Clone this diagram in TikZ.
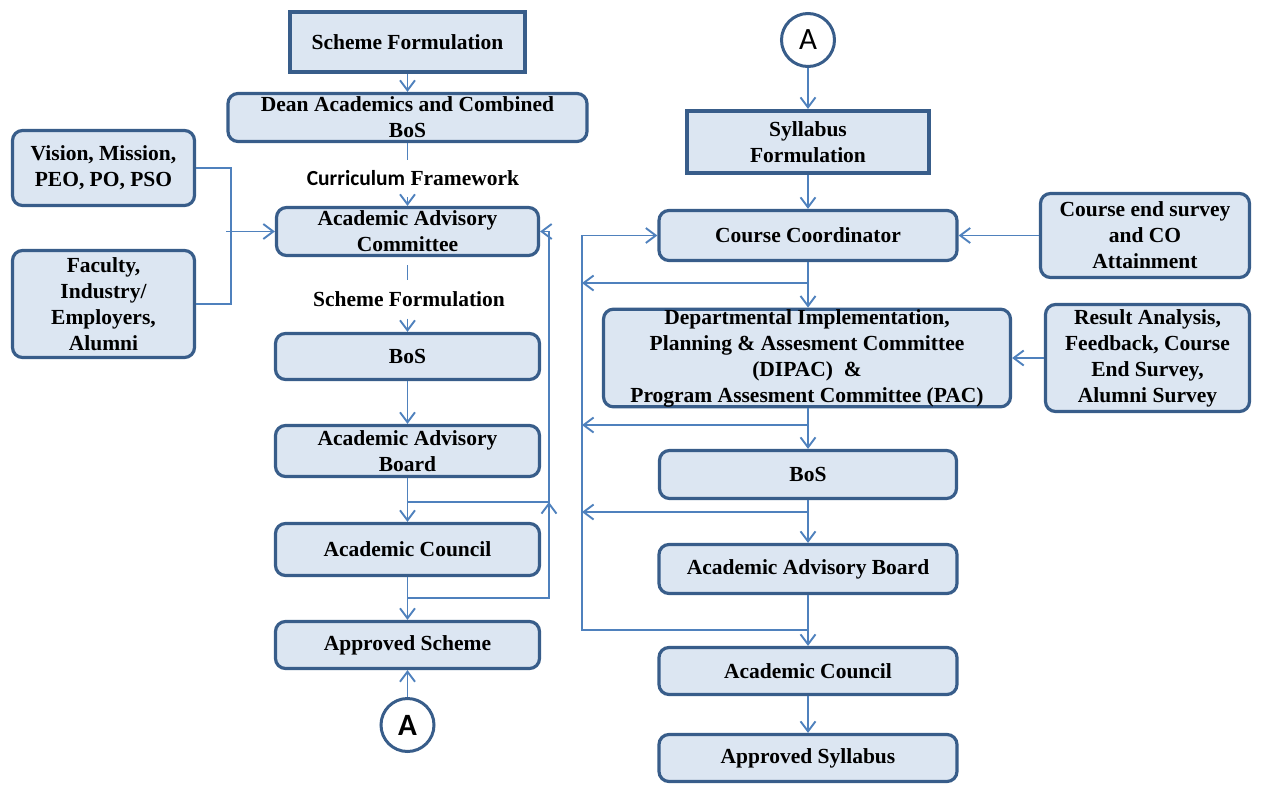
\documentclass[tikz,border=0pt]{standalone}
\usepackage{fontspec}
\setmainfont{Liberation Serif}
\newfontfamily\calibri{Carlito}
\usetikzlibrary{arrows.meta}
\definecolor{boxfill}{HTML}{DCE6F2}
\definecolor{boxline}{HTML}{385D8A}
\definecolor{linkblue}{HTML}{4F81BD}
\begin{document}
\begin{tikzpicture}[x=1pt,y=-1pt,
  base/.style={draw=boxline, fill=boxfill, line width=3.2pt, align=center, inner sep=0pt,
    font=\fontsize{21.5}{26}\selectfont\bfseries},
  rbox/.style={base, rounded corners=10pt},
  sbox/.style={base, line width=3.6pt},
  link/.style={draw=linkblue, line width=1.9pt},
  arr/.style={link, -{Straight Barb[length=10pt,width=15pt,line width=1.9pt]}},
  circ/.style={circle, draw=boxline, fill=white, line width=3pt, minimum size=53pt, inner sep=0pt,
    font=\calibri\fontsize{31}{31}\selectfont},
  lab/.style={inner sep=0pt, font=\fontsize{21.5}{26}\selectfont\bfseries}
]
\useasboundingbox (0,0) rectangle (1262,785);

% ---------- left column ----------
\node[sbox, minimum width=234.5pt, minimum height=60.5pt] (sf) at (407.5,42) {Scheme Formulation};
\node[rbox, minimum width=359pt, minimum height=48pt] (dean) at (407.5,117.5) {Dean Academics and Combined\\BoS};
\node[rbox, minimum width=182pt, minimum height=75pt] (vis) at (103.5,168) {Vision, Mission,\\PEO, PO, PSO};
\node[rbox, minimum width=182pt, minimum height=107pt] (fac) at (103.5,304) {Faculty,\\Industry/\\Employers,\\Alumni};
\node[rbox, minimum width=262pt, minimum height=48pt] (aac) at (407.5,231.5) {Academic Advisory\\Committee};
\node[rbox, minimum width=264pt, minimum height=46pt] (bos) at (407.5,356.5) {BoS};
\node[rbox, minimum width=264pt, minimum height=51pt] (aab) at (407.5,451) {Academic Advisory\\Board};
\node[rbox, minimum width=264pt, minimum height=52pt] (ac) at (407.5,549.5) {Academic Council};
\node[rbox, minimum width=264pt, minimum height=47pt] (as) at (407.5,645) {Approved Scheme};
\node[circ] (A1) at (407.5,725) {\bfseries A};

\node[lab, minimum height=37pt] (cf) at (413,178.5) {{\calibri\bfseries Curriculum}\ \textbf{Framework}};
\node[lab, minimum height=38pt] (sfl) at (409,299.5) {Scheme Formulation};

\draw[arr] (sf) -- (dean);
\draw[link] (dean.south) -- (dean.south |- cf.north);
\draw[arr] (aac.north |- cf.south) -- (aac.north);
\draw[link, shorten <=8pt] (aac.south) -- (aac.south |- sfl.north);
\draw[arr] (bos.north |- sfl.south) -- (bos.north);
\draw[arr] (bos) -- (aab);
\draw[arr] (aab) -- (ac);
\draw[arr] (ac) -- (as);
\draw[arr] (A1) -- (as);

\draw[link] (vis.east) -- ++(34.5,0) |- (fac.east);
\coordinate (brk) at (226,231.5);
\draw[arr] (brk) -- (aac.west);

\coordinate (lp1) at (407.5,598);
\coordinate (lp2) at (549,598);
\coordinate (lp3) at (549,231.5);
\draw[arr] (lp1) -- (lp2) -- (lp3) -- (aac.east);
\coordinate (lp4) at (407.5,502);
\coordinate (lp5) at (549,502);
\coordinate (lp6) at (549,516);
\draw[link] (lp4) -- (lp5);
\draw[arr] (lp6) -- (lp5);

% ---------- right column ----------
\node[circ] (A2) at (808,40) {A};
\node[sbox, minimum width=241.5pt, minimum height=62.5pt] (syl) at (808,142) {Syllabus\\Formulation};
\node[rbox, minimum width=298pt, minimum height=50pt] (cc) at (808,235.5) {Course Coordinator};
\node[rbox, minimum width=209pt, minimum height=84pt] (ces) at (1145,235.5) {Course end survey\\and CO\\Attainment};
\node[rbox, minimum width=407pt, minimum height=93pt] (dip) at (807,358) {Departmental Implementation,\\Planning \& Assesment Committee\\(DIPAC)~~\&\\Program Assesment Committee (PAC)};
\node[rbox, minimum width=204pt, minimum height=107pt] (ra) at (1147.5,358) {Result Analysis,\\Feedback, Course\\End Survey,\\Alumni Survey};
\node[rbox, minimum width=297pt, minimum height=48pt] (bos2) at (808,474.5) {BoS};
\node[rbox, minimum width=298pt, minimum height=49pt] (aab2) at (808,569) {Academic Advisory Board};
\node[rbox, minimum width=298pt, minimum height=47pt] (ac2) at (808,671) {Academic Council};
\node[rbox, minimum width=298pt, minimum height=47pt] (as2) at (808,758) {Approved Syllabus};

\draw[arr] (A2) -- (syl);
\draw[arr] (syl) -- (cc);
\draw[arr] (cc.south) -- (dip.north -| cc.south);
\draw[arr] (dip.south -| bos2.north) -- (bos2.north);
\draw[arr] (bos2) -- (aab2);
\draw[arr] (aab2) -- (ac2);
\draw[arr] (ac2) -- (as2);
\draw[arr] (ces) -- (cc);
\draw[arr] (ra) -- (dip);

\coordinate (fe) at (808,630);
\coordinate (fb) at (582,630);
\coordinate (ft) at (582,235.5);
\draw[arr] (fe) -- (fb) -- (ft) -- (cc.west);
\coordinate (r1) at (808,283);  \coordinate (l1) at (582,283);
\coordinate (r2) at (808,425);  \coordinate (l2) at (582,425);
\coordinate (r3) at (808,512);  \coordinate (l3) at (582,512);
\draw[arr] (r1) -- (l1);
\draw[arr] (r2) -- (l2);
\draw[arr] (r3) -- (l3);
\end{tikzpicture}
\end{document}
